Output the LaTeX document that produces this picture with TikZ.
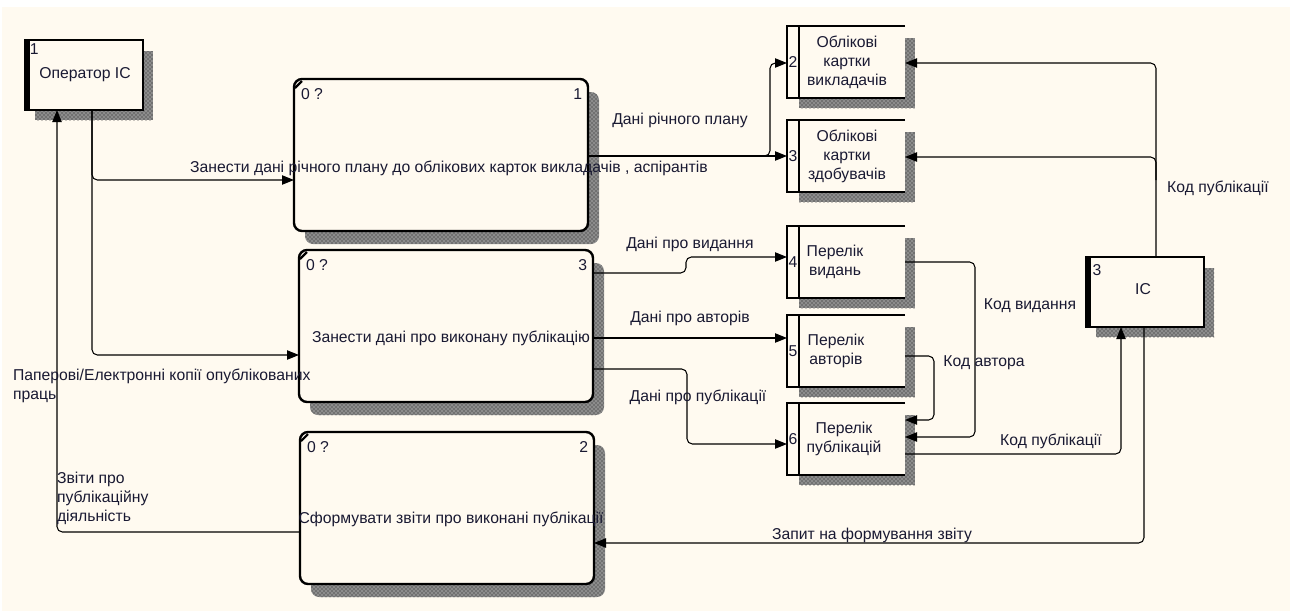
\documentclass[tikz,border=0pt]{standalone}
\usepackage{fontspec}
\setmainfont{Liberation Sans}
\usetikzlibrary{arrows.meta, patterns}

\definecolor{paper}{RGB}{255,250,240}
\definecolor{ink}{RGB}{25,25,50}

\newcommand{\pxu}{0.75pt}

\tikzset{
  every node/.style={inner sep=0pt, outer sep=0pt, text=ink, font=\fontsize{11.8}{14.2}\selectfont},
  shade/.style={fill=black!45, postaction={pattern=crosshatch dots, pattern color=black!90}},
  proc/.style={draw=black, line width=1.8pt, rounded corners=6pt, fill=paper, anchor=north west,
    minimum width=294*\pxu, minimum height=152*\pxu},
  entity/.style={draw=black, line width=2.2pt, fill=paper, anchor=north west,
    minimum width=118*\pxu, minimum height=70*\pxu},
  store/.style={fill=paper, anchor=north west, minimum width=118*\pxu, minimum height=72*\pxu},
  storeline/.style={draw=black, line width=2pt},
  thickedge/.style={draw=black, line width=4.5pt},
  flow/.style={draw=black, line width=0.8pt, rounded corners=4pt, -{Triangle[length=9pt,width=7pt]}},
  lbl/.style={align=center},
}

\begin{document}
\begin{tikzpicture}[x=\pxu, y=-\pxu]

\useasboundingbox (0,0) rectangle (1290,611);
\fill[white] (0,0) rectangle (1290,611);
\fill[paper] (2,7) rectangle (1290,611);

% external entities
\fill[shade] (35,51) rectangle (153,120);
\node[entity] (oper) at (25,40) {};
\draw[thickedge] ([xshift=2*\pxu]oper.north west) -- ([xshift=2*\pxu]oper.south west);
\node[anchor=north west] (oper-n) at (30,44) {1};
\node (oper-t) at (85,75) {Оператор IC};

\fill[shade] (1096,268) rectangle (1214,337);
\node[entity] (ic) at (1086,257) {};
\draw[thickedge] ([xshift=2*\pxu]ic.north west) -- ([xshift=2*\pxu]ic.south west);
\node (ic-n) at (1097,270) {3};
\node (ic-t) at (1143,289) {IC};

% processes
\foreach \n/\x/\y in {1/294/79, 3/299/250, 2/300/432}
{
\fill[shade, rounded corners=6pt] (\x+11,\y+13) rectangle (\x+305,\y+165);
\node[proc] (p\n) at (\x,\y) {};
\draw[line width=1.6pt] (\x+1,\y+9) -- (\x+8,\y+2);
\node[anchor=west] (p\n-a) at (\x+7,\y+15) {0 ?};
\node[anchor=east] (p\n-b) at (\x+288,\y+15) {\n};
}
\node (p1-t) at (449,168) {Занести дані річного плану до облікових карток викладачів , аспірантів};
\node (p3-t) at (451,338) {Занести дані про виконану публікацію};
\node (p2-t) at (451,519) {Сформувати звіти про виконані публікації};

% data stores
\foreach \n/\y/\tx/\txt in {2/26/847/{Облікові\\картки\\викладачів}, 3/120/847/{Облікові\\картки\\здобувачів},
  4/226/835/{Перелік\\видань}, 5/315/836/{Перелік\\авторів}, 6/403/844/{Перелік\\публікацій}}
{
\fill[shade] (799,\y+12) rectangle (915,\y+82);
\node[store] (st\n) at (787,\y) {};
\draw[storeline] (st\n.north east) -- (st\n.north west) -- (st\n.south west) -- (st\n.south east);
\draw[line width=1.5pt] (799,\y) -- (799,\y+72);
\node (st\n-n) at (793,\y+36) {\n};
\node[lbl] (st\n-t) at (\tx,\y+36) {\txt};
}

% flows
\draw[flow] (oper.south -| 92,0) |- (p1.west |- 0,180);
\draw[flow] (oper.south -| 92,0) |- (p3.west |- 0,355);
\draw[flow] (p2.west |- 0,532) -| (oper.south -| 57,0);

\draw[flow] (p1.east |- 0,156) -| (770,63) -- (st2.west |- 0,63);
\draw[flow] (p1.east |- 0,156) -- (st3.west |- 0,156);

\draw[flow] (p3.east |- 0,273) -- (686,273) -- (686,257) -- (st4.west |- 0,257);
\draw[flow] (p3.east |- 0,338) -- (st5.west |- 0,338);
\draw[flow] (p3.east |- 0,369) -| (687,444) -- (st6.west |- 0,444);

\draw[flow] (st4.east |- 0,262) -| (975,437) -- (st6.east |- 0,437);
\draw[flow] (st5.east |- 0,356) -| (934,420) -- (st6.east |- 0,420);
\draw[flow] (st6.east |- 0,454) -| (ic.south -| 1121,0);

\draw[flow] (ic.north -| 1156,0) |- (st2.east |- 0,63);
\draw[flow] (1156,180) |- (st3.east |- 0,157);
\draw[flow] (ic.south -| 1144,0) |- (p2.east |- 0,543);

% flow labels
\node (f1) at (680,120) {Дані річного плану};
\node (f2) at (690,244) {Дані про видання};
\node (f3) at (690,318) {Дані про авторів};
\node (f4) at (698,397) {Дані про публікації};
\node (f5) at (1030,306) {Код видання};
\node (f6) at (984,363) {Код автора};
\node (f7) at (1051,441) {Код публікації};
\node (f8) at (1218,188) {Код публікації};
\node (f9) at (872,535) {Запит на формування звіту};
\node[anchor=west, align=left] (f10) at (13,386) {Паперові/Електронні копії опублікованих\\праць};
\node[anchor=west, align=left] (f11) at (57,498) {Звіти про\\публікаційну\\діяльність};

\end{tikzpicture}
\end{document}
